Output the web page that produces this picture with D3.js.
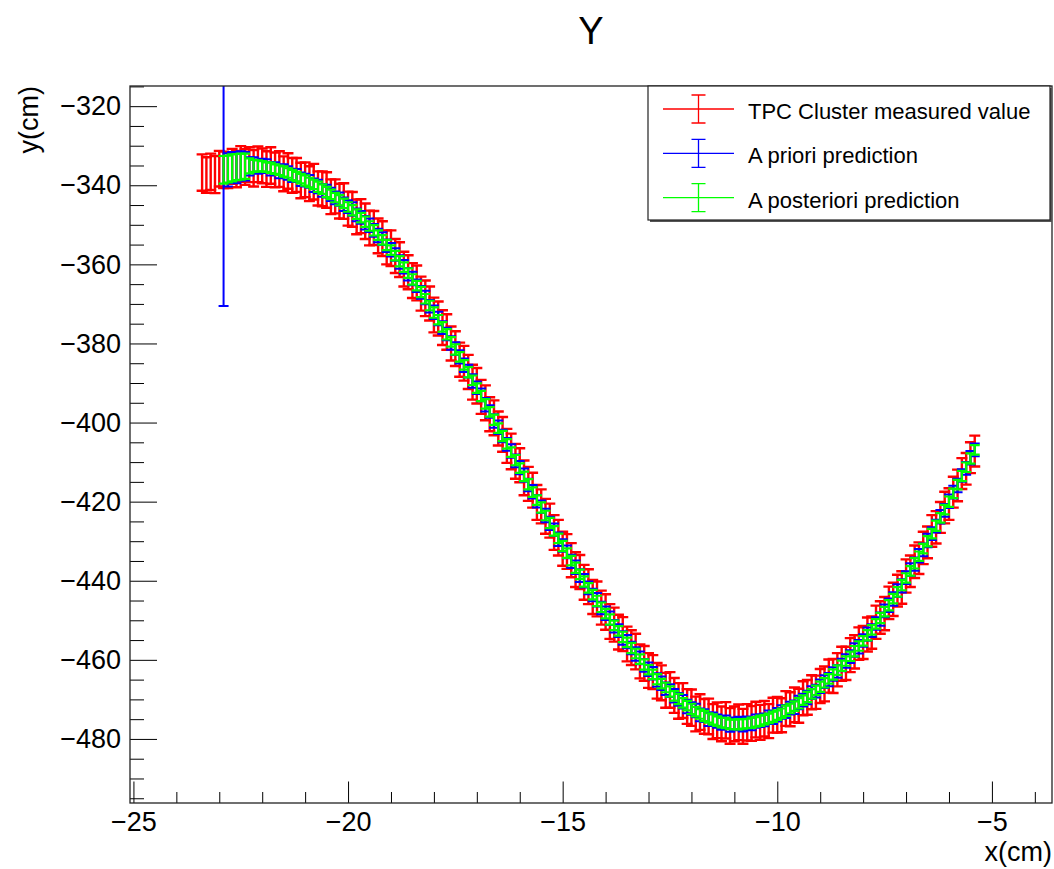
<!DOCTYPE html>
<html>
<head>
<meta charset="utf-8">
<script src="https://cdn.jsdelivr.net/npm/d3@7"></script>
<style>
  body { margin: 0; background: #fff; }
  svg { display: block; font-family: "Liberation Sans", Arial, Helvetica, sans-serif; }
</style>
</head>
<body>
<svg id="chart" width="1054" height="869"></svg>
<script>
// cluster positions along x (cm)
var xs = [
  -23.4,-23.3,-23.2,-23.1,-23.0,-22.9,-22.8,-22.7,-22.6,-22.5,
  -22.4,-22.3,-22.2,-22.1,-22.0,-21.9,-21.8,-21.7,-21.6,-21.5,
  -21.4,-21.3,-21.2,-21.1,-21.0,-20.9,-20.8,-20.7,-20.6,-20.5,
  -20.4,-20.3,-20.2,-20.1,-20.0,-19.9,-19.8,-19.7,-19.6,-19.5,
  -19.4,-19.3,-19.2,-19.1,-19.0,-18.9,-18.8,-18.7,-18.6,-18.5,
  -18.4,-18.3,-18.2,-18.1,-18.0,-17.9,-17.8,-17.7,-17.6,-17.5,
  -17.4,-17.3,-17.2,-17.1,-17.0,-16.9,-16.8,-16.7,-16.6,-16.5,
  -16.4,-16.3,-16.2,-16.1,-16.0,-15.9,-15.8,-15.7,-15.6,-15.5,
  -15.4,-15.3,-15.2,-15.1,-15.0,-14.9,-14.8,-14.7,-14.6,-14.5,
  -14.4,-14.3,-14.2,-14.1,-14.0,-13.9,-13.8,-13.7,-13.6,-13.5,
  -13.4,-13.3,-13.2,-13.1,-13.0,-12.9,-12.8,-12.7,-12.6,-12.5,
  -12.4,-12.3,-12.2,-12.1,-12.0,-11.9,-11.8,-11.7,-11.6,-11.5,
  -11.4,-11.3,-11.2,-11.1,-11.0,-10.9,-10.8,-10.7,-10.6,-10.5,
  -10.4,-10.3,-10.2,-10.1,-10.0,-9.9,-9.8,-9.7,-9.6,-9.5,
  -9.4,-9.3,-9.2,-9.1,-9.0,-8.9,-8.8,-8.7,-8.6,-8.5,
  -8.4,-8.3,-8.2,-8.1,-8.0,-7.9,-7.8,-7.7,-7.6,-7.5,
  -7.4,-7.3,-7.2,-7.1,-7.0,-6.9,-6.8,-6.7,-6.6,-6.5,
  -6.4,-6.3,-6.2,-6.1,-6.0,-5.9,-5.8,-5.7,-5.6,-5.5,
  -5.4
];

// TPC cluster measured y (cm), one per xs
var yMeasured = [
  -336.8,-337.4,-336.6,-337.3,-335.8,-336.1,-336.2,-335.2,-335.9,-334.6,
  -335.4,-334.8,-335.7,-334.7,-335.1,-335.9,-335.0,-336.1,-335.9,-337.1,
  -336.4,-337.5,-337.4,-338.8,-338.6,-339.6,-339.1,-340.8,-340.9,-341.2,
  -342.9,-342.8,-344.0,-344.0,-345.9,-346.1,-348.0,-347.8,-349.1,-350.8,
  -350.8,-352.8,-353.5,-355.7,-355.9,-357.9,-358.8,-361.2,-362.0,-364.1,
  -364.7,-367.4,-368.6,-369.9,-372.8,-373.7,-376.0,-377.1,-380.0,-381.3,
  -384.1,-385.0,-387.2,-389.8,-390.7,-393.5,-395.0,-397.9,-398.8,-401.5,
  -403.0,-405.9,-407.3,-409.8,-410.8,-414.0,-415.5,-417.1,-420.2,-421.2,
  -423.7,-424.8,-427.8,-429.1,-431.9,-432.6,-434.8,-437.2,-437.8,-440.4,
  -441.5,-444.1,-444.6,-446.8,-447.9,-450.3,-451.1,-453.0,-453.5,-456.0,
  -456.9,-457.9,-460.4,-460.9,-462.7,-463.1,-465.3,-465.8,-467.7,-467.6,
  -469.0,-470.4,-470.3,-471.8,-472.1,-473.7,-473.2,-474.3,-474.3,-475.6,
  -475.3,-476.2,-475.3,-476.7,-476.2,-475.8,-476.8,-475.8,-476.1,-475.1,
  -475.8,-474.9,-475.5,-474.0,-473.9,-474.0,-472.3,-472.5,-471.4,-471.6,
  -469.7,-469.5,-468.2,-468.2,-466.6,-466.1,-464.1,-464.1,-462.5,-461.0,
  -460.9,-458.8,-458.0,-455.9,-455.6,-453.6,-453.1,-450.5,-449.3,-448.3,
  -445.6,-444.7,-442.5,-441.7,-438.8,-437.6,-435.2,-434.3,-431.7,-430.3,
  -427.4,-426.5,-424.0,-421.5,-420.6,-417.6,-415.9,-412.9,-411.7,-408.9,
  -407.2
];
var errMeasured = [
  4.6,4.5,4.6,4.7,4.5,4.6,4.5,4.4,4.6,4.5,
  4.5,4.4,4.6,4.5,4.4,4.5,4.6,4.4,4.5,4.4,
  4.5,4.4,4.3,4.5,4.4,4.4,4.5,4.3,4.4,4.5,
  4.4,4.3,4.4,4.5,4.3,4.4,4.4,4.3,4.5,4.4,
  4.3,4.4,4.4,4.3,4.5,4.3,4.4,4.4,4.3,4.4,
  4.4,4.3,4.5,4.3,4.4,4.3,4.4,4.5,4.3,4.4,
  4.3,4.4,4.3,4.4,4.5,4.3,4.4,4.3,4.4,4.3,
  4.4,4.3,4.5,4.4,4.3,4.4,4.3,4.4,4.4,4.3,
  4.4,4.3,4.4,4.5,4.3,4.4,4.3,4.4,4.3,4.4,
  4.4,4.3,4.4,4.3,4.5,4.4,4.3,4.4,4.3,4.4,
  4.4,4.5,4.3,4.4,4.4,4.3,4.5,4.4,4.4,4.5,
  4.4,4.5,4.4,4.4,4.6,4.4,4.5,4.4,4.5,4.4,
  4.5,4.4,4.6,4.5,4.4,4.5,4.4,4.6,4.4,4.5,
  4.4,4.5,4.3,4.4,4.5,4.3,4.4,4.3,4.4,4.3,
  4.3,4.4,4.3,4.2,4.3,4.4,4.2,4.3,4.2,4.3,
  4.2,4.3,4.2,4.1,4.2,4.3,4.1,4.2,4.1,4.2,
  4.1,4.2,4.0,4.1,4.2,4.0,4.1,4.0,4.1,4.0,
  4.0,4.1,3.9,4.0,4.0,3.9,4.0,3.9,4.0,3.9,
  3.9
];

// predictions start at the sixth cluster (xs[5])
var firstPrediction = 5;
var yPrior = [
  -335.8,-336.1,-335.5,-335.7,-335.1,-335.2,-335.2,-334.8,-335.3,-335.1,
  -335.1,-335.8,-335.8,-336.5,-336.3,-336.9,-337.5,-337.5,-338.5,-338.7,
  -339.0,-340.0,-340.3,-341.3,-341.5,-342.3,-343.2,-343.5,-344.8,-345.4,
  -346.0,-347.5,-348.1,-349.5,-350.1,-351.4,-352.7,-353.5,-355.3,-356.3,
  -357.5,-359.4,-360.6,-362.5,-363.6,-365.4,-367.1,-368.4,-370.6,-372.1,
  -373.7,-376.0,-377.6,-379.9,-381.3,-383.4,-385.5,-387.0,-389.5,-391.2,
  -393.0,-395.5,-397.2,-399.6,-401.2,-403.4,-405.5,-407.2,-409.7,-411.4,
  -413.3,-415.8,-417.5,-419.9,-421.3,-423.5,-425.5,-427.1,-429.5,-431.1,
  -432.7,-435.1,-436.6,-438.7,-440.0,-441.8,-443.6,-444.8,-446.9,-448.2,
  -449.5,-451.5,-452.6,-454.5,-455.4,-457.0,-458.5,-459.5,-461.4,-462.4,
  -463.4,-465.1,-465.9,-467.3,-467.8,-469.1,-470.0,-470.6,-471.8,-472.3,
  -472.8,-473.9,-474.1,-475.0,-474.9,-475.5,-476.0,-475.7,-476.5,-476.2,
  -476.0,-476.4,-476.0,-476.2,-475.5,-475.4,-475.2,-474.5,-474.6,-473.9,
  -473.2,-473.1,-472.2,-472.0,-470.8,-470.2,-469.5,-468.3,-467.9,-466.7,
  -465.5,-465.0,-463.6,-462.9,-461.3,-460.3,-459.2,-457.5,-456.7,-455.1,
  -453.5,-452.6,-450.8,-449.7,-447.6,-446.2,-444.6,-442.5,-441.3,-439.2,
  -437.2,-435.8,-433.7,-432.2,-429.8,-428.1,-426.2,-423.8,-422.2,-419.9,
  -417.6,-415.9,-413.4,-411.6,-408.9,-406.9
];
var errPrior = [
  34.7,4.2,3.9,3.8,3.7,3.6,2.3,1.9,1.8,1.8,
  1.7,1.7,1.6,1.7,1.6,1.7,1.7,1.6,1.7,1.6,
  1.6,1.7,1.7,1.6,1.6,1.7,1.6,1.7,1.7,1.6,
  1.7,1.6,1.6,1.7,1.7,1.6,1.7,1.6,1.6,1.7,
  1.6,1.7,1.7,1.6,1.7,1.6,1.6,1.7,1.6,1.7,
  1.7,1.6,1.6,1.7,1.6,1.7,1.7,1.6,1.7,1.6,
  1.6,1.7,1.6,1.7,1.7,1.6,1.6,1.7,1.6,1.7,
  1.7,1.6,1.7,1.6,1.6,1.7,1.7,1.6,1.7,1.6,
  1.6,1.7,1.7,1.6,1.7,1.6,1.6,1.7,1.6,1.7,
  1.7,1.6,1.6,1.7,1.7,1.6,1.7,1.6,1.6,1.7,
  1.6,1.7,1.7,1.6,1.6,1.7,1.6,1.7,1.7,1.6,
  1.7,1.6,1.6,1.7,1.6,1.7,1.7,1.6,1.7,1.6,
  1.6,1.7,1.7,1.6,1.7,1.6,1.6,1.7,1.6,1.7,
  1.7,1.6,1.6,1.7,1.7,1.6,1.7,1.6,1.6,1.7,
  1.6,1.7,1.7,1.6,1.6,1.7,1.6,1.7,1.7,1.6,
  1.7,1.6,1.6,1.7,1.6,1.7,1.7,1.6,1.7,1.6,
  1.6,1.7,1.7,1.6,1.7,1.6,1.6,1.7,1.6,1.7,
  1.6,1.7,1.6,1.6,1.7,1.6
];
var yPosterior = [
  -336.1,-335.9,-335.6,-335.4,-335.3,-335.2,-335.1,-335.1,-335.1,-335.2,
  -335.4,-335.6,-335.9,-336.2,-336.5,-336.9,-337.4,-337.8,-338.3,-338.8,
  -339.3,-339.8,-340.4,-341.0,-341.7,-342.3,-343.1,-343.8,-344.6,-345.5,
  -346.3,-347.3,-348.2,-349.2,-350.3,-351.4,-352.6,-353.8,-355.1,-356.4,
  -357.8,-359.2,-360.7,-362.2,-363.8,-365.4,-367.0,-368.7,-370.4,-372.2,
  -374.0,-375.8,-377.7,-379.6,-381.5,-383.4,-385.4,-387.3,-389.3,-391.3,
  -393.3,-395.3,-397.3,-399.3,-401.4,-403.4,-405.4,-407.5,-409.5,-411.5,
  -413.6,-415.6,-417.6,-419.6,-421.5,-423.5,-425.4,-427.4,-429.3,-431.2,
  -433.0,-434.9,-436.7,-438.4,-440.2,-441.8,-443.5,-445.1,-446.7,-448.3,
  -449.8,-451.3,-452.7,-454.2,-455.6,-457.0,-458.4,-459.8,-461.2,-462.5,
  -463.7,-464.9,-466.0,-467.0,-468.0,-469.1,-469.9,-470.9,-471.6,-472.4,
  -473.1,-473.7,-474.2,-474.7,-475.1,-475.5,-475.9,-476.0,-476.3,-476.3,
  -476.3,-476.2,-476.1,-475.9,-475.7,-475.4,-475.1,-474.8,-474.4,-474.0,
  -473.5,-472.9,-472.3,-471.7,-471.0,-470.2,-469.4,-468.6,-467.7,-466.8,
  -465.8,-464.8,-463.7,-462.6,-461.5,-460.3,-459.1,-457.8,-456.5,-455.2,
  -453.8,-452.4,-450.9,-449.4,-447.8,-446.2,-444.5,-442.8,-441.1,-439.3,
  -437.5,-435.6,-433.8,-431.9,-430.0,-428.1,-426.1,-424.1,-422.0,-420.0,
  -417.9,-415.7,-413.5,-411.3,-409.1,-406.9
];
var errPosterior = [
  3.5,3.4,3.4,3.3,3.3,3.2,1.9,1.5,1.4,1.3,
  1.2,1.3,1.2,1.2,1.3,1.2,1.3,1.2,1.2,1.3,
  1.2,1.2,1.3,1.2,1.3,1.2,1.2,1.3,1.2,1.2,
  1.3,1.2,1.2,1.3,1.2,1.3,1.2,1.2,1.3,1.2,
  1.2,1.3,1.2,1.2,1.3,1.2,1.3,1.2,1.2,1.3,
  1.2,1.2,1.3,1.2,1.3,1.2,1.2,1.3,1.2,1.2,
  1.3,1.2,1.2,1.3,1.2,1.3,1.2,1.2,1.3,1.2,
  1.2,1.3,1.2,1.2,1.3,1.2,1.3,1.2,1.2,1.3,
  1.2,1.2,1.3,1.2,1.3,1.2,1.2,1.3,1.2,1.2,
  1.3,1.2,1.2,1.3,1.2,1.3,1.2,1.2,1.3,1.2,
  1.2,1.3,1.2,1.2,1.3,1.2,1.3,1.2,1.2,1.3,
  1.2,1.2,1.3,1.2,1.3,1.2,1.2,1.3,1.2,1.2,
  1.3,1.2,1.2,1.3,1.2,1.3,1.2,1.2,1.3,1.2,
  1.2,1.3,1.2,1.2,1.3,1.2,1.3,1.2,1.2,1.3,
  1.2,1.2,1.3,1.2,1.3,1.2,1.2,1.3,1.2,1.2,
  1.3,1.2,1.2,1.3,1.2,1.3,1.2,1.2,1.3,1.2,
  1.2,1.3,1.2,1.2,1.3,1.2,1.3,1.2,1.2,1.3,
  1.2,1.2,1.3,1.2,1.3,1.2
];

var seriesNames = ["TPC Cluster measured value", "A priori prediction", "A posteriori prediction"];
var seriesColors = ["#ff0000", "#0000ff", "#00ff00"];

var xMajorTicks = [-25, -20, -15, -10, -5];
var xMinorTicks = [-24, -23, -22, -21, -19, -18, -17, -16, -14, -13, -12, -11, -9, -8, -7, -6, -4];
var yMajorTicks = [-480, -460, -440, -420, -400, -380, -360, -340, -320];
var yMinorTicks = [-495, -490, -485, -475, -470, -465, -455, -450, -445, -435, -430, -425,
  -415, -410, -405, -395, -390, -385, -375, -370, -365, -355, -350, -345, -335, -330, -325, -315];

// dimensions and margins
var svg = d3.select("#chart"),
  W = +svg.attr("width"),
  H = +svg.attr("height");
var margin = { top: 86, right: 2, bottom: 66, left: 130 };
var width = W - margin.left - margin.right,
  height = H - margin.top - margin.bottom;
var font = "'Liberation Sans', Arial, Helvetica, sans-serif";

var xScale = d3.scaleLinear().domain([-25.08, -3.6]).range([0, width]);
var yScale = d3.scaleLinear().domain([-496.2, -314.9]).range([height, 0]);

function fmt(d) {
  return d < 0 ? "\u2212" + Math.abs(d) : "" + d;
}

var g = svg.append("g").attr("transform", "translate(" + margin.left + "," + margin.top + ")");

svg.append("defs").append("clipPath").attr("id", "clip")
  .append("rect").attr("width", width).attr("height", height);

// error bars, drawn red -> blue -> green like the original
var plot = g.append("g").attr("clip-path", "url(#clip)");

function drawErrors(xv, yv, ev, color, lw, cap) {
  var pts = yv.map(function (y, i) {
    return { x: xv[i], y: y, e: ev[i] };
  });
  plot.append("g")
    .selectAll("path")
    .data(pts)
    .enter()
    .append("path")
    .attr("d", function (d) {
      var cx = xScale(d.x),
        y1 = yScale(d.y + d.e),
        y2 = yScale(d.y - d.e);
      return "M" + cx + "," + y1 + "V" + y2 +
        "M" + (cx - cap) + "," + y1 + "H" + (cx + cap) +
        "M" + (cx - cap) + "," + y2 + "H" + (cx + cap);
    })
    .attr("fill", "none")
    .attr("stroke", color)
    .attr("stroke-width", lw);
}

var xPred = xs.slice(firstPrediction);
drawErrors(xs, yMeasured, errMeasured, seriesColors[0], 2.4, 5.5);
drawErrors(xPred, yPrior, errPrior, seriesColors[1], 2, 5);
drawErrors(xPred, yPosterior, errPosterior, seriesColors[2], 2.2, 5);

// axes, ROOT style: ticks inside the frame
function styleAxis(sel) {
  sel.select(".domain").remove();
  sel.selectAll(".tick line").attr("stroke", "#000");
  sel.selectAll("text").attr("fill", "#000");
  sel.attr("font-family", font).attr("font-size", 27);
}

g.append("g")
  .attr("transform", "translate(0," + height + ")")
  .call(d3.axisBottom(xScale).tickValues(xMinorTicks).tickSize(-11).tickFormat(""))
  .call(styleAxis);
g.append("g")
  .attr("transform", "translate(0," + height + ")")
  .call(d3.axisBottom(xScale).tickValues(xMajorTicks).tickSize(-21.5).tickPadding(9).tickFormat(fmt))
  .call(styleAxis);

g.append("g")
  .call(d3.axisLeft(yScale).tickValues(yMinorTicks).tickSize(-14).tickFormat(""))
  .call(styleAxis);
g.append("g")
  .call(d3.axisLeft(yScale).tickValues(yMajorTicks).tickSize(-27).tickPadding(9).tickFormat(fmt))
  .call(styleAxis);

// frame
g.append("rect")
  .attr("width", width)
  .attr("height", height)
  .attr("fill", "none")
  .attr("stroke", "#222")
  .attr("stroke-width", 1.3);

// titles
svg.append("text")
  .attr("x", margin.left + width / 2)
  .attr("y", 44)
  .attr("text-anchor", "middle")
  .attr("font-size", 38)
  .text("Y");

svg.append("text")
  .attr("transform", "translate(38," + margin.top + ") rotate(-90)")
  .attr("text-anchor", "end")
  .attr("font-size", 27)
  .text("y(cm)");

svg.append("text")
  .attr("x", margin.left + width)
  .attr("y", 861)
  .attr("text-anchor", "end")
  .attr("font-size", 27)
  .text("x(cm)");

// legend
var lg = svg.append("g").attr("transform", "translate(648," + margin.top + ")");
var lgW = 402, lgH = 134;
lg.append("path")
  .attr("d", "M" + (lgW + 1) + ",2V" + (lgH + 1) + "H2")
  .attr("fill", "none")
  .attr("stroke", "#555")
  .attr("stroke-width", 2);
lg.append("rect")
  .attr("width", lgW)
  .attr("height", lgH)
  .attr("fill", "#fff")
  .attr("stroke", "#222")
  .attr("stroke-width", 1.2);

var entry = lg.selectAll(".entry")
  .data(seriesNames)
  .enter()
  .append("g")
  .attr("class", "entry")
  .attr("transform", function (d, i) {
    return "translate(0," + (23 + i * 44.3) + ")";
  });
entry.append("path")
  .attr("d", "M15,0H86M50.5,-14V14M43.5,-14H57.5M43.5,14H57.5")
  .attr("fill", "none")
  .attr("stroke", function (d, i) { return seriesColors[i]; })
  .attr("stroke-width", 1.3);
entry.append("text")
  .attr("x", 100)
  .attr("y", 10)
  .attr("font-size", 22)
  .text(function (d) { return d; });
</script>
</body>
</html>
